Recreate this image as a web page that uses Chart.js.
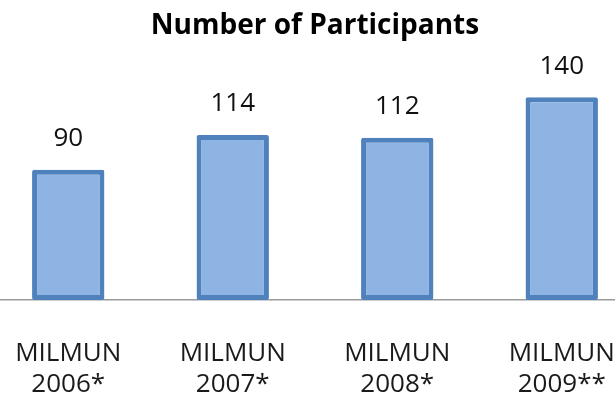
<!DOCTYPE html>
<html>
<head>
<meta charset="utf-8">
<script src="https://cdn.jsdelivr.net/npm/chart.js@4.4.0/dist/chart.umd.min.js"></script>
<style>
  html, body { margin: 0; padding: 0; background: #fff; overflow: hidden; }
  #wrap { position: absolute; left: -14px; top: 0; width: 658px; height: 402px; }
</style>
</head>
<body>
<div id="wrap"><canvas id="chart" width="658" height="402"></canvas></div>
<script>
// ===== chart data =====
const categories = [['MILMUN', '2006*'], ['MILMUN', '2007*'], ['MILMUN', '2008*'], ['MILMUN', '2009**']];
const participants = [90, 114, 112, 140];
const chartTitle = 'Number of Participants';

// ===== draw the value above each bar =====
const valueLabels = {
    id: 'valueLabels',
    afterDatasetsDraw(chart) {
        const ctx = chart.ctx;
        const meta = chart.getDatasetMeta(0);
        ctx.save();
        ctx.font = '26px "Open Sans"';
        ctx.fillStyle = '#111';
        ctx.textAlign = 'center';
        ctx.textBaseline = 'middle';
        meta.data.forEach((bar, i) => {
            ctx.fillText(String(participants[i]), bar.x, bar.y - 31);
        });
        ctx.restore();
    }
};

const ctx = document.getElementById('chart').getContext('2d');
new Chart(ctx, {
    type: 'bar',
    data: {
        labels: categories,
        datasets: [{
            label: 'Participants',
            data: participants,
            backgroundColor: '#8EB4E3',
            borderColor: '#4F81BD',
            borderWidth: 5,
            borderSkipped: false,
            borderRadius: 2,
            categoryPercentage: 1,
            barPercentage: 0.44
        }]
    },
    options: {
        responsive: false,
        animation: false,
        layout: { padding: 0 },
        plugins: {
            legend: { display: false },
            tooltip: { enabled: false },
            title: {
                display: true,
                text: chartTitle,
                color: '#000',
                font: { family: 'Open Sans', size: 28, weight: 'bold', lineHeight: 1.2 },
                padding: { top: 9, bottom: 17 }
            }
        },
        scales: {
            x: {
                grid: { display: false, drawTicks: false },
                border: { display: true, color: '#9a9a9a', width: 1.5 },
                ticks: {
                    color: '#1a1a1a',
                    font: { family: 'Open Sans', size: 26, lineHeight: 1.2 },
                    padding: 38,
                    maxRotation: 0
                },
                afterFit(scale) {
                    // fixed axis height, and no extra side padding for the edge labels
                    scale.height = 102;
                    scale.paddingLeft = 0;
                    scale.paddingRight = 0;
                }
            },
            y: {
                display: false,
                min: 0,
                max: 166
            }
        }
    },
    plugins: [valueLabels]
});
</script>
</body>
</html>
